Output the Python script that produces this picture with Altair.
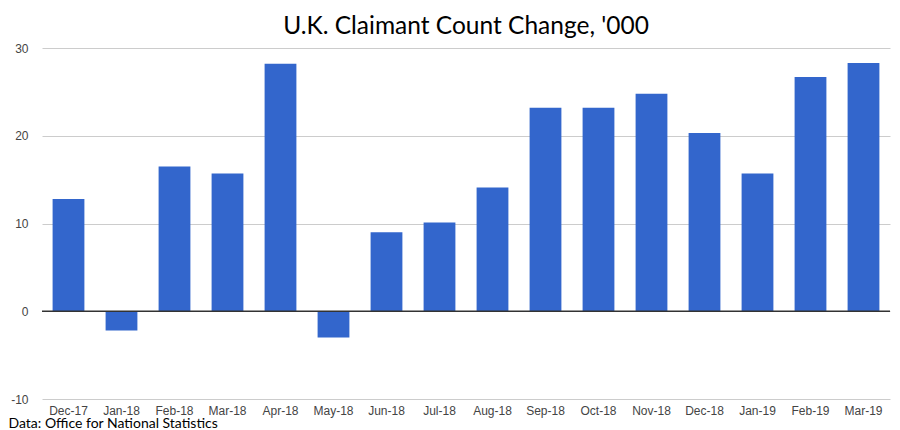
import altair as alt
import pandas as pd

months = ["Dec-17", "Jan-18", "Feb-18", "Mar-18", "Apr-18", "May-18", "Jun-18", "Jul-18",
          "Aug-18", "Sep-18", "Oct-18", "Nov-18", "Dec-18", "Jan-19", "Feb-19", "Mar-19"]
changes = [12.8, -2.2, 16.5, 15.7, 28.2, -3.0, 9.0, 10.1,
           14.1, 23.2, 23.2, 24.8, 20.3, 15.7, 26.7, 28.3]
y_ticks = [-10, 0, 10, 20, 30]

df = pd.DataFrame({"month": months, "change": changes})
zero_df = pd.DataFrame({"y": [0]})

x = alt.X("month:N", sort=months,
          scale=alt.Scale(paddingInner=0.4, paddingOuter=0.2),
          axis=alt.Axis(title="Data: Office for National Statistics", titleAnchor="start",
                        titleX=-34, titleY=28, titleBaseline="alphabetic",
                        titleFont="Lato", titleFontSize=14, titleFontWeight="normal",
                        titleColor="#000000",
                        labelAngle=0, labelFont="Liberation Sans", labelFontSize=12,
                        labelColor="#444444", labelPadding=6, ticks=False, tickSize=0,
                        domain=False, grid=False))

bars = alt.Chart(df).mark_bar(color="#3366cc").encode(
    x=x,
    y=alt.Y("change:Q", scale=alt.Scale(domain=[-10, 30], nice=False),
            axis=alt.Axis(title=None, values=y_ticks, labelExpr="'' + datum.value",
                          labelFont="Liberation Sans",
                          labelFontSize=12, labelColor="#444444", labelPadding=14,
                          ticks=False, domain=False, gridColor="#cccccc")),
)

zero = alt.Chart(zero_df).mark_rule(color="#333333", strokeWidth=1.5).encode(y="y:Q")

chart = alt.layer(bars, zero).properties(
    width=848, height=351,
    autosize=alt.AutoSizeParams(type="none"),
    padding={"left": 34, "top": 40, "right": 2, "bottom": 32},
    title=alt.TitleParams("U.K. Claimant Count Change, '000", font="Lato", fontSize=24.5,
                          fontWeight="normal", color="#000000", anchor="middle", offset=3),
).configure_view(stroke=None)

chart.save("out.html", embed_options={"renderer": "svg", "actions": False})
